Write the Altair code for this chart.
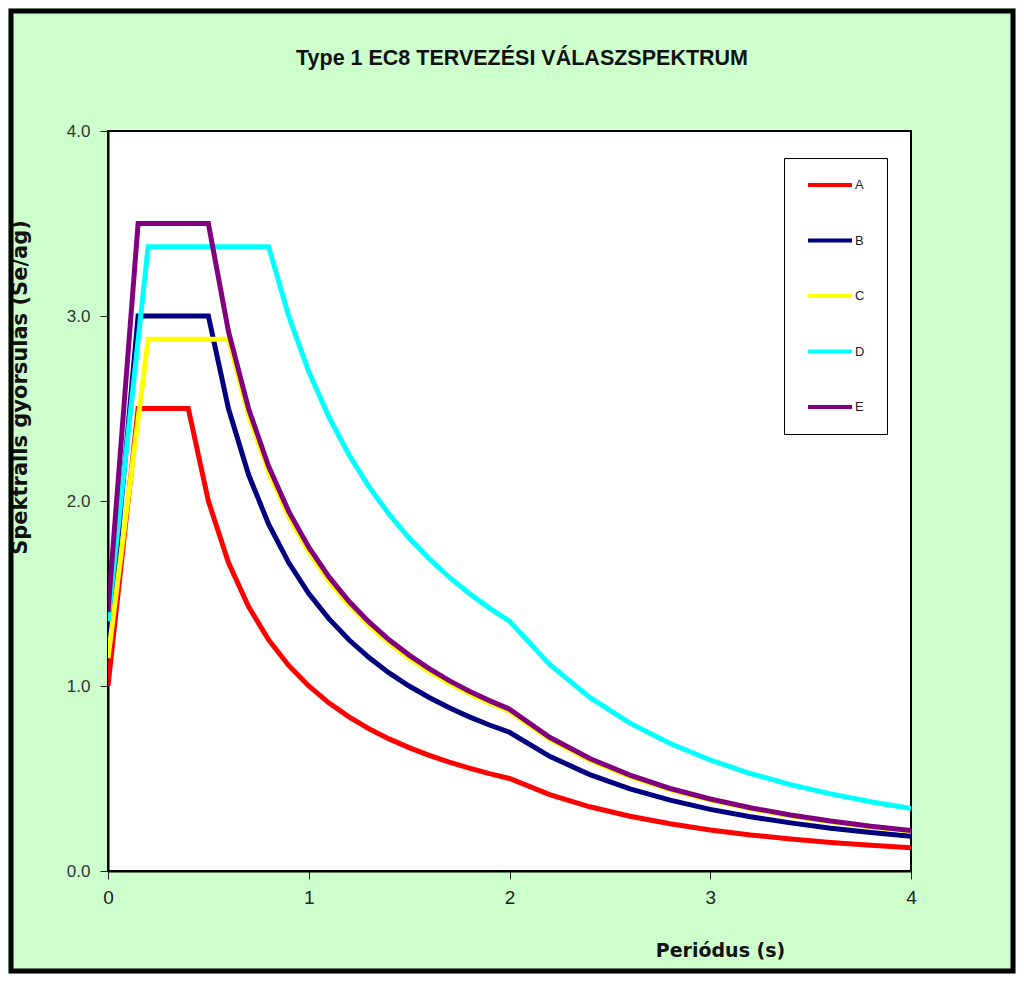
import altair as alt
import pandas as pd

series = ["A", "B", "C", "D", "E"]
colors = ["#FF0000", "#000080", "#FFFF00", "#00FFFF", "#800080"]

tail_T = [2.2, 2.4, 2.6, 2.8, 3.0, 3.2, 3.4, 3.6, 3.8, 4.0]

T_A = [0, 0.15, 0.4, 0.5, 0.6, 0.7, 0.8, 0.9, 1.0, 1.1, 1.2, 1.3, 1.4, 1.5, 1.6, 1.7, 1.8, 1.9, 2.0] + tail_T
S_A = [1.0, 2.5, 2.5, 2.0, 1.667, 1.429, 1.25, 1.111, 1.0, 0.909, 0.833, 0.769, 0.714, 0.667, 0.625, 0.588, 0.556, 0.526, 0.5,
       0.413, 0.347, 0.296, 0.255, 0.222, 0.195, 0.173, 0.154, 0.139, 0.125]

T_B = [0, 0.15, 0.5, 0.6, 0.7, 0.8, 0.9, 1.0, 1.1, 1.2, 1.3, 1.4, 1.5, 1.6, 1.7, 1.8, 1.9, 2.0] + tail_T
S_B = [1.2, 3.0, 3.0, 2.5, 2.143, 1.875, 1.667, 1.5, 1.364, 1.25, 1.154, 1.071, 1.0, 0.938, 0.882, 0.833, 0.789, 0.75,
       0.620, 0.521, 0.444, 0.383, 0.333, 0.293, 0.260, 0.231, 0.208, 0.188]

T_C = [0, 0.2, 0.6, 0.7, 0.8, 0.9, 1.0, 1.1, 1.2, 1.3, 1.4, 1.5, 1.6, 1.7, 1.8, 1.9, 2.0] + tail_T
S_C = [1.15, 2.875, 2.875, 2.464, 2.156, 1.917, 1.725, 1.568, 1.438, 1.327, 1.232, 1.15, 1.078, 1.015, 0.958, 0.908, 0.863,
       0.713, 0.599, 0.510, 0.440, 0.383, 0.337, 0.298, 0.266, 0.239, 0.216]

T_D = [0, 0.2, 0.8, 0.9, 1.0, 1.1, 1.2, 1.3, 1.4, 1.5, 1.6, 1.7, 1.8, 1.9, 2.0] + tail_T
S_D = [1.35, 3.375, 3.375, 3.0, 2.7, 2.455, 2.25, 2.077, 1.929, 1.8, 1.688, 1.588, 1.5, 1.421, 1.35,
       1.116, 0.938, 0.799, 0.689, 0.6, 0.527, 0.467, 0.417, 0.374, 0.338]

T_E = [0, 0.15, 0.5, 0.6, 0.7, 0.8, 0.9, 1.0, 1.1, 1.2, 1.3, 1.4, 1.5, 1.6, 1.7, 1.8, 1.9, 2.0] + tail_T
S_E = [1.4, 3.5, 3.5, 2.917, 2.5, 2.188, 1.944, 1.75, 1.591, 1.458, 1.346, 1.25, 1.167, 1.094, 1.029, 0.972, 0.921, 0.875,
       0.723, 0.608, 0.518, 0.446, 0.389, 0.342, 0.303, 0.270, 0.242, 0.219]

rows = []
for name, ts, ss in zip(series, [T_A, T_B, T_C, T_D, T_E], [S_A, S_B, S_C, S_D, S_E]):
    for t, s in zip(ts, ss):
        rows.append({"Talaj": name, "T": t, "Se": s})
df = pd.DataFrame(rows)

W, H = 803, 740
PL, PT, PR, PB = 100, 123, 105, 103

dejavu = "'DejaVu Sans', 'Liberation Sans', Arial, sans-serif"
arial = "'Liberation Sans', Arial, sans-serif"

lines = alt.Chart(df).mark_line(strokeWidth=5, clip=True).encode(
    x=alt.X("T:Q", scale=alt.Scale(domain=[0, 4], nice=False),
            axis=alt.Axis(values=[0, 1, 2, 3, 4], format="d", title="Periódus (s)",
                          titleX=612, titleY=79, titleBaseline="middle", titleAnchor="start",
                          titleAlign="center", titleFont=dejavu, titleFontSize=19, titleFontWeight="bold",
                          titleColor="#111111", labelFlush=False,
                          labelFont=arial, labelFontSize=19, labelColor="#222222", labelPadding=9,
                          tickSize=8, tickColor="#222222", domainColor="#000000", domainWidth=2,
                          grid=False)),
    y=alt.Y("Se:Q", scale=alt.Scale(domain=[0, 4], nice=False),
            axis=alt.Axis(values=[0, 1, 2, 3, 4], format=".1f", title="Spektrálls gyorsulás (Se/ag)",
                          titleX=-88, titleY=256, titleAngle=-90, titleBaseline="middle",
                          titleAlign="center", titleFont=dejavu, titleFontSize=21, titleFontWeight="bold",
                          titleColor="#111111", labelFlush=False,
                          labelFont=arial, labelFontSize=17, labelColor="#333333", labelPadding=10,
                          tickSize=8, tickColor="#222222", domainColor="#000000", domainWidth=2,
                          grid=False)),
    color=alt.Color("Talaj:N", scale=alt.Scale(domain=series, range=colors),
                    legend=alt.Legend(orient="none", legendX=676, legendY=27,
                                      title="I", titleOrient="right", titleFontSize=5,
                                      titleColor="transparent", titlePadding=11,
                                      symbolType="stroke", symbolSize=1936, symbolStrokeWidth=4,
                                      symbolOffset=12, labelOffset=1, clipHeight=34,
                                      labelFont=arial, labelFontSize=13, labelColor="#222222",
                                      rowPadding=21.5, padding=10,
                                      strokeColor="#000000", fillColor="#FFFFFF")),
)

frame_df = pd.DataFrame({"k": [0]})
frame = alt.Chart(frame_df).mark_rect(fill=None, stroke="#000000", strokeWidth=5, clip=False).encode(
    x=alt.value(-PL + 3), x2=alt.value(W + PR - 3),
    y=alt.value(-PT + 3), y2=alt.value(H + PB - 3),
)

chart = alt.layer(lines, frame).properties(
    width=W, height=H,
    autosize=alt.AutoSizeParams(type="none"),
    padding={"left": PL, "top": PT, "right": PR, "bottom": PB},
    background="#CCFFCC",
    title=alt.TitleParams("Type 1 EC8 TERVEZÉSI VÁLASZSPEKTRUM", font=arial, fontSize=21.5,
                          fontWeight="bold", color="#111111", anchor="middle",
                          baseline="alphabetic", offset=-77.5, dx=12.5),
).configure_view(
    stroke="#000000", strokeWidth=2, fill="#FFFFFF"
)

chart.save("out.html", embed_options={"renderer": "svg", "actions": False})
